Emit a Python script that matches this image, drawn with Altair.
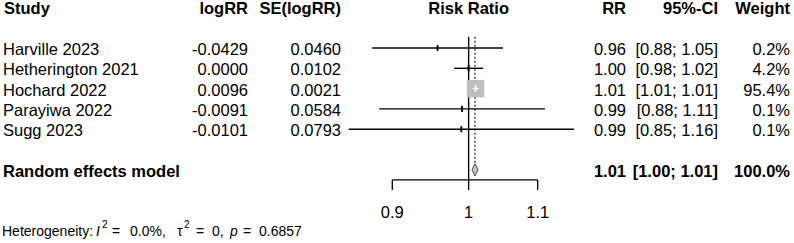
import math
import altair as alt
import pandas as pd

# ---- study data -------------------------------------------------------------
studies = ["Harville 2023", "Hetherington 2021", "Hochard 2022", "Parayiwa 2022", "Sugg 2023"]
log_rr = [-0.0429, 0.0000, 0.0096, -0.0091, -0.0101]
se_log_rr = [0.0460, 0.0102, 0.0021, 0.0584, 0.0793]
weights = [0.2, 4.2, 95.4, 0.1, 0.1]

# pooled random effects estimate (risk ratio scale)
pooled_label = "Random effects model"
pooled_rr = 1.0088
pooled_lower = 1.0046
pooled_upper = 1.0131
pooled_weight = 100.0

# heterogeneity statistics
i2 = 0.0
tau2 = 0
p_value = 0.6857

axis_ticks = [0.9, 1.0, 1.1]
axis_tick_labels = ["0.9", "1", "1.1"]

headers = ["Study", "logRR", "SE(logRR)", "Risk Ratio", "RR", "95%-CI", "Weight"]

# ---- layout -----------------------------------------------------------------
W, H = 794, 243
FONT = "Liberation Sans"
FS = 16.5
X_SCALE = alt.Scale(type="log", domain=[0.5237, 1.5669], nice=False)
Y_SCALE = alt.Scale(domain=[-1.365, 10.606], reverse=True, nice=False, zero=False)

HEADER_ROW = -1
POOLED_ROW = 7
LINE_TOP = 0.45
AXIS_ROW = 7.5
TICK_END = 8.0
TICK_LABEL_ROW = 9
HET_ROW = 10
DIAMOND_HALF = 0.3
POINT_HALF = 0.15

# ---- derived table ----------------------------------------------------------
rows = []
for i, (s, b, se, w) in enumerate(zip(studies, log_rr, se_log_rr, weights)):
    lo = math.exp(b - 1.96 * se)
    hi = math.exp(b + 1.96 * se)
    rr = math.exp(b)
    rows.append({
        "study": s, "row": i + 1, "rr": rr, "lo": lo, "hi": hi, "weight": w,
        "y_lo": i + 1 - POINT_HALF, "y_hi": i + 1 + POINT_HALF,
        "logrr_txt": f"{b:.4f}", "se_txt": f"{se:.4f}",
        "rr_txt": f"{rr:.2f}", "ci_txt": f"[{lo:.2f}; {hi:.2f}]",
        "w_txt": f"{w:.1f}%",
    })
df = pd.DataFrame(rows)

X = lambda f: alt.X(f, scale=X_SCALE, axis=None)
Y = lambda f: alt.Y(f, scale=Y_SCALE, axis=None)


def text_col(data, field, x, align="right", bold=False, row_field="row"):
    return alt.Chart(data).mark_text(
        align=align, baseline="alphabetic", dy=7, font=FONT, fontSize=FS,
        fontWeight="bold" if bold else "normal", color="black",
    ).encode(x=alt.value(x), y=Y(f"{row_field}:Q"), text=f"{field}:N")


# column text
study_txt = text_col(df, "study", 3, align="left")
logrr_txt = text_col(df, "logrr_txt", 248)
se_txt = text_col(df, "se_txt", 341)
rr_txt = text_col(df, "rr_txt", 626)
ci_txt = text_col(df, "ci_txt", 718)
w_txt = text_col(df, "w_txt", 790)

# headers
hdr = pd.DataFrame({"row": [HEADER_ROW], "Study": [headers[0]], "logRR": [headers[1]],
                    "SE": [headers[2]], "RR": [headers[4]], "CI": [headers[5]],
                    "Weight": [headers[6]]})
hdr_layers = [
    text_col(hdr, "Study", 4, align="left", bold=True),
    text_col(hdr, "logRR", 248, bold=True),
    text_col(hdr, "SE", 341, bold=True),
    text_col(hdr, "RR", 626, bold=True),
    text_col(hdr, "CI", 718, bold=True),
    text_col(hdr, "Weight", 790, bold=True),
]
rr_hdr = alt.Chart(pd.DataFrame({"x": [1.0], "row": [HEADER_ROW], "t": [headers[3]]})).mark_text(
    align="center", baseline="alphabetic", dy=7, font=FONT, fontSize=FS, fontWeight="bold",
    color="black",
).encode(x=X("x:Q"), y=Y("row:Q"), text="t:N")

# pooled row text
pooled = pd.DataFrame({
    "row": [POOLED_ROW], "label": [pooled_label], "rr_txt": [f"{pooled_rr:.2f}"],
    "ci_txt": [f"[{pooled_lower:.2f}; {pooled_upper:.2f}]"],
    "w_txt": [f"{pooled_weight:.1f}%"],
})
pooled_layers = [
    text_col(pooled, "label", 3, align="left", bold=True),
    text_col(pooled, "rr_txt", 626, bold=True),
    text_col(pooled, "ci_txt", 718, bold=True),
    text_col(pooled, "w_txt", 790, bold=True),
]

# reference line at RR = 1 and dotted line at pooled estimate
ref_line = alt.Chart(pd.DataFrame({"x": [1.0], "y": [LINE_TOP], "y2": [AXIS_ROW]})).mark_rule(
    color="black", strokeWidth=1.4).encode(x=X("x:Q"), y=Y("y:Q"), y2="y2:Q")
pooled_line = alt.Chart(pd.DataFrame({"x": [pooled_rr], "y": [LINE_TOP],
                                      "y2": [POOLED_ROW - DIAMOND_HALF]})).mark_rule(
    color="black", strokeWidth=1.1, strokeDash=[2, 2]).encode(x=X("x:Q"), y=Y("y:Q"), y2="y2:Q")

# study squares, CI lines, point ticks
squares = alt.Chart(df).mark_square(filled=True, color="#bebebe", opacity=1).encode(
    x=X("rr:Q"), y=Y("row:Q"),
    size=alt.Size("weight:Q", scale=alt.Scale(domain=[0, 100], range=[0, 320]), legend=None),
)
inside = alt.condition(alt.datum.weight > 50, alt.value("white"), alt.value("black"))
ci_lines = alt.Chart(df).mark_rule(strokeWidth=1.4).encode(
    x=X("lo:Q"), x2="hi:Q", y=Y("row:Q"), color=inside)
point_ticks = alt.Chart(df).mark_rule(strokeWidth=1.8).encode(
    x=X("rr:Q"), y=Y("y_lo:Q"), y2="y_hi:Q", color=inside)

# pooled diamond
diamond_df = pd.DataFrame({
    "x": [pooled_lower, pooled_rr, pooled_upper],
    "y": [POOLED_ROW, POOLED_ROW - DIAMOND_HALF, POOLED_ROW],
    "y2": [POOLED_ROW, POOLED_ROW + DIAMOND_HALF, POOLED_ROW],
})
diamond = alt.Chart(diamond_df).mark_area(
    color="#c8c8c8", stroke="#444444", strokeWidth=1, opacity=1, interpolate="linear",
).encode(x=X("x:Q"), y=Y("y:Q"), y2="y2:Q")

# bottom axis
axis_line = alt.Chart(pd.DataFrame({"x": [axis_ticks[0]], "x2": [axis_ticks[-1]],
                                    "y": [AXIS_ROW]})).mark_rule(
    color="black", strokeWidth=1.3).encode(x=X("x:Q"), x2="x2:Q", y=Y("y:Q"))
tick_df = pd.DataFrame({"x": axis_ticks, "lab": axis_tick_labels,
                        "y": [AXIS_ROW] * 3, "y2": [TICK_END] * 3,
                        "ly": [TICK_LABEL_ROW] * 3})
axis_ticks_m = alt.Chart(tick_df).mark_rule(color="black", strokeWidth=1.3).encode(
    x=X("x:Q"), y=Y("y:Q"), y2="y2:Q")
axis_labels = alt.Chart(tick_df).mark_text(
    align="center", baseline="alphabetic", dy=8, font=FONT, fontSize=FS, color="black",
).encode(x=X("x:Q"), y=Y("ly:Q"), text="lab:N")

# heterogeneity line, split into segments for italics and superscripts
het_segments = pd.DataFrame({
    "t": ["Heterogeneity:", "I", "2", "=", f"{i2:.1f}%,", "\u03c4", "2", "=", f"{tau2},",
          "p", "=", f"{p_value:.4f}"],
    "x": [2, 96, 102, 112, 130, 177, 184, 196, 212, 230, 243, 259],
    "style": ["normal", "italic", "normal", "normal", "normal", "normal", "normal", "normal",
              "normal", "italic", "normal", "normal"],
    "sup": [False, False, True, False, False, False, True, False, False, False, False, False],
})
het_layers = []
for _, seg in het_segments.iterrows():
    het_layers.append(
        alt.Chart(pd.DataFrame({"row": [HET_ROW], "t": [seg.t]})).mark_text(
            align="left", baseline="alphabetic", dy=-3 if seg.sup else 5,
            font=FONT, fontSize=10 if seg.sup else 14, fontStyle=seg["style"], color="black",
        ).encode(x=alt.value(int(seg.x)), y=Y("row:Q"), text="t:N")
    )

chart = alt.layer(
    ref_line, pooled_line, squares, ci_lines, point_ticks, diamond,
    axis_line, axis_ticks_m, axis_labels,
    study_txt, logrr_txt, se_txt, rr_txt, ci_txt, w_txt,
    rr_hdr, *hdr_layers, *pooled_layers, *het_layers,
).properties(
    width=W, height=H, padding=0, background="white",
    autosize=alt.AutoSizeParams(type="fit", contains="padding"),
).configure_view(stroke=None)

chart.save("out.html", embed_options={"renderer": "svg", "actions": False})
